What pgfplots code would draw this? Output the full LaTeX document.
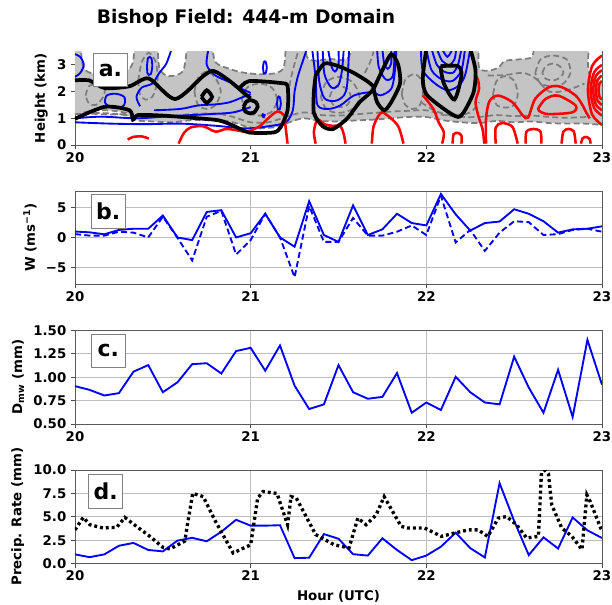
\documentclass[border=0pt]{standalone}
\usepackage{fontspec}
\setmainfont{DejaVu Sans}
\usepackage{pgfplots}
\pgfplotsset{compat=1.18}
\usepackage{pgfplotstable}

\definecolor{gfill}{RGB}{196,196,196}
\definecolor{gdash}{RGB}{125,125,125}
\definecolor{gridc}{RGB}{190,190,190}

\pgfplotstableread{
x      wsol  wdash  dmw    psol
20.000 1.03  0.60   0.905  0.98
20.083 0.90  0.35   0.865  0.68
20.167 0.57  0.35   0.805  0.98
20.250 1.30  1.00   0.830  1.90
20.333 1.50  0.85   1.060  2.20
20.417 1.50  0.05   1.130  1.45
20.500 3.70  3.50   0.840  1.30
20.583 0.05  0.00   0.945  2.45
20.667 -0.40 -3.80  1.140  2.75
20.750 4.30  3.50   1.150  2.38
20.833 4.60  4.50   1.040  3.40
20.917 0.05  -2.80  1.280  4.68
21.000 0.75  -0.40  1.315  4.05
21.083 4.00  4.00   1.070  4.05
21.167 0.05  0.05   1.340  4.10
21.250 -1.50 -6.60  0.910  0.58
21.333 6.10  5.30   0.660  0.62
21.417 0.45  -0.70  0.710  3.15
21.500 -0.70 -0.70  1.130  2.65
21.583 5.40  3.30   0.840  1.00
21.667 0.45  0.35   0.770  0.85
21.750 1.40  0.35   0.790  2.70
21.833 4.00  1.00   1.045  1.45
21.917 2.45  2.05   0.620  0.36
22.000 2.05  0.45   0.730  0.85
22.083 7.30  7.00   0.650  1.80
22.167 3.90  -0.80  1.005  3.30
22.250 1.20  1.30   0.840  1.65
22.333 2.45  -2.20  0.730  0.65
22.417 2.70  0.85   0.710  8.60
22.500 4.75  2.75   1.220  4.55
22.583 4.00  2.60   0.890  0.90
22.667 2.75  0.45   0.620  2.80
22.750 0.85  0.60   1.080  1.60
22.833 1.40  1.30   0.575  4.93
22.917 1.50  1.50   1.400  3.55
23.000 1.90  1.00   0.920  2.73
}\maindata

\pgfplotstableread{
x      p
20.000 3.60
20.047 4.93
20.085 4.15
20.160 3.80
20.237 3.87
20.284 4.93
20.350 3.97
20.420 3.00
20.500 1.74
20.540 1.55
20.625 2.40
20.640 4.15
20.670 7.50
20.730 7.16
20.800 4.50
20.900 1.13
21.000 2.00
21.040 7.00
21.070 7.70
21.150 7.50
21.210 4.15
21.230 7.16
21.260 7.00
21.370 3.10
21.476 2.00
21.560 1.67
21.610 4.86
21.657 4.15
21.714 5.20
21.760 7.16
21.857 3.97
21.895 3.80
21.990 3.80
22.086 2.90
22.160 3.26
22.240 3.60
22.295 3.60
22.350 2.90
22.410 4.86
22.457 5.03
22.514 4.15
22.571 2.73
22.638 2.90
22.657 10.30
22.695 9.60
22.714 6.27
22.771 3.80
22.829 2.90
22.886 1.49
22.914 7.34
22.933 6.63
23.000 3.44
}\dotdata

\tikzset{
  lbox/.style={draw=gray, fill=white, line width=0.7pt, anchor=north west,
    minimum width=25.5pt, minimum height=25pt, inner sep=0pt,
    font=\fontsize{16.5}{18}\selectfont\bfseries},
}
\pgfplotsset{
  myax/.style={
    scale only axis, width=395.25pt, height=70.1pt,
    xmin=20, xmax=23, xtick={20,21,22,23}, xticklabels={20,21,22,23},
    tick align=outside, tick pos=left, major tick length=3pt,
    axis line style={black!65, line width=0.7pt},
    tick style={black!70, line width=0.6pt},
    ticklabel style={font=\fontsize{10}{12}\selectfont\bfseries},
    label style={font=\fontsize{10}{12}\selectfont\bfseries},
    xticklabel style={yshift=1pt},
  },
  mygrid/.style={grid=major, grid style={gridc, line width=0.6pt}},
  bl/.style={blue, line width=1.4pt, smooth, tension=0.5},
  rd/.style={red, line width=1.9pt, smooth, tension=0.5},
  bk/.style={black, line width=2.8pt, smooth, tension=0.45},
  gd/.style={gdash, line width=1.3pt, dash pattern=on 4.5pt off 2.5pt, smooth, tension=0.5},
  wp/.style={fill=white, draw=gdash, line width=1.3pt, dash pattern=on 4.5pt off 2.5pt, smooth, tension=0.5},
}

\begin{document}
\begin{tikzpicture}
\useasboundingbox (0,0) rectangle (459pt,453.75pt);
\node[font=\fontsize{14}{16}\selectfont\bfseries] at (184.5pt,440.25pt) {Bishop Field: 444-m Domain};

% ---------------- panel a ----------------
\begin{axis}[myax, at={(56.25pt,345pt)}, anchor=south west,
  ymin=0, ymax=3.5, ytick={0,1,2,3}, yticklabels={0,1,2,3},
  ylabel={Height (km)}]
% gray shading
\addplot[fill=gfill, draw=none] coordinates {
 (20,1.15) (20.1,1.2) (20.2,1.18) (20.3,1.1) (20.35,0.92) (20.45,0.88) (20.55,0.85)
 (20.65,0.92) (20.8,0.95) (20.9,0.85) (20.97,0.7) (21.05,0.62) (21.15,0.68) (21.22,0.85)
 (21.3,1.0) (21.4,0.9) (21.5,0.88) (21.6,0.92) (21.7,0.95) (21.8,1.0) (21.9,1.05) (22.0,1.05)
 (22.1,0.92) (22.2,0.85) (22.3,0.82) (22.4,0.9) (22.5,0.85) (22.6,0.88) (22.7,0.82)
 (22.8,0.8) (22.9,0.8) (23,0.75) (23.1,0.75) (23.1,3.8) (19.9,3.8) (19.9,1.15)};
% white gaps
\addplot[wp] coordinates {(20.035,3.8) (20.04,3.1) (20.07,2.75) (20.15,2.62) (20.24,2.65) (20.3,2.8) (20.33,3.1) (20.34,3.8)};
\addplot[wp] coordinates {(20.47,3.8) (20.48,2.9) (20.52,2.6) (20.58,2.62) (20.62,2.85) (20.64,3.8)};
\addplot[wp] coordinates {(20.78,3.8) (20.8,3.1) (20.88,2.85) (20.95,2.72) (21.05,2.65) (21.15,2.7) (21.19,2.95) (21.2,3.8)};
\addplot[wp] coordinates {(21.31,3.8) (21.32,3.3) (21.36,3.15) (21.45,3.22) (21.52,3.18) (21.56,3.3) (21.58,3.8)};
\addplot[wp] coordinates {(22.3,3.8) (22.3,2.9) (22.35,2.78) (22.41,2.9) (22.45,3.15) (22.55,3.22) (22.6,3.3) (22.62,3.8)};
\addplot[wp] coordinates {(22.93,3.8) (22.92,3.0) (22.95,2.45) (23.1,2.35) (23.1,3.8)};
\addplot[wp] coordinates {(20.05,1.22) (20.12,1.3) (20.22,1.28) (20.3,1.18) (20.22,1.14) (20.1,1.17) (20.05,1.22)};
% dashed contours
\addplot[gd] coordinates {
 (20,1.15) (20.1,1.2) (20.2,1.18) (20.3,1.1) (20.35,0.92) (20.45,0.88) (20.55,0.85)
 (20.65,0.92) (20.8,0.95) (20.9,0.85) (20.97,0.7) (21.05,0.62) (21.15,0.68) (21.22,0.85)
 (21.3,1.0) (21.4,0.9) (21.5,0.88) (21.6,0.92) (21.7,0.95) (21.8,1.0) (21.9,1.05) (22.0,1.05)
 (22.1,0.92) (22.2,0.85) (22.3,0.82) (22.4,0.9) (22.5,0.85) (22.6,0.88) (22.7,0.82)
 (22.8,0.8) (22.9,0.8) (23,0.75)};
\addplot[gd] coordinates {
 (20.35,1.15) (20.45,1.1) (20.55,1.08) (20.65,1.15) (20.8,1.18) (20.9,1.05) (21.0,0.85)
 (21.1,0.85) (21.2,1.05) (21.3,1.22) (21.4,1.12) (21.5,1.1) (21.6,1.15) (21.7,1.2) (21.8,1.25)
 (21.9,1.28) (22.0,1.3) (22.1,1.12) (22.2,1.05) (22.3,1.05) (22.4,1.12) (22.5,1.08)
 (22.6,1.1) (22.7,1.05) (22.8,1.02) (22.92,1.05)};
\addplot[gd] coordinates {(20.68,2.0) (20.7,2.5) (20.75,2.75) (20.8,2.5) (20.83,2.0) (20.8,1.5) (20.75,1.35) (20.7,1.5) (20.68,2.0)};
\addplot[gd] coordinates {(20.36,2.4) (20.38,3.1) (20.42,3.45) (20.46,3.1) (20.47,2.4) (20.44,1.8) (20.4,1.7) (20.37,1.9) (20.36,2.4)};
\addplot[gd] coordinates {(20.95,1.7) (20.98,2.15) (21.05,2.3) (21.12,2.15) (21.15,1.7) (21.12,1.25) (21.05,1.1) (20.98,1.25) (20.95,1.7)};
\addplot[gd] coordinates {(21.4,1.8) (21.43,2.35) (21.5,2.55) (21.58,2.35) (21.62,1.8) (21.58,1.35) (21.5,1.2) (21.43,1.35) (21.4,1.8)};
\addplot[gd] coordinates {(21.45,1.8) (21.47,2.1) (21.51,2.2) (21.55,2.1) (21.57,1.8) (21.55,1.5) (21.51,1.42) (21.47,1.5) (21.45,1.8)};
\addplot[gd] coordinates {(21.86,1.9) (21.88,2.45) (21.93,2.65) (21.97,2.45) (21.98,1.9) (21.96,1.45) (21.92,1.35) (21.88,1.5) (21.86,1.9)};
\addplot[gd] coordinates {(21.97,1.6) (22.05,1.28) (22.15,1.1) (22.25,1.22) (22.3,1.6)};
\addplot[gd] coordinates {(22.38,1.9) (22.4,2.4) (22.45,2.58) (22.5,2.4) (22.52,1.9) (22.5,1.5) (22.45,1.4) (22.4,1.5) (22.38,1.9)};
\addplot[gd] coordinates {(22.62,2.7) (22.65,3.2) (22.72,3.35) (22.8,3.2) (22.82,2.7) (22.78,2.3) (22.72,2.2) (22.65,2.3) (22.62,2.7)};
\addplot[gd] coordinates {(22.66,2.7) (22.68,2.95) (22.72,3.05) (22.76,2.95) (22.78,2.7) (22.75,2.48) (22.72,2.42) (22.68,2.48) (22.66,2.7)};
\addplot[gd] coordinates {(20.06,1.85) (20.08,2.2) (20.13,2.3) (20.17,2.15) (20.16,1.8) (20.12,1.5) (20.08,1.55) (20.06,1.85)};
\addplot[gd] coordinates {(21.22,2.2) (21.24,2.8) (21.27,3.5)};
\addplot[gd] coordinates {(21.65,2.7) (21.68,3.1) (21.7,3.5)};
\addplot[gd] coordinates {(22.35,2.6) (22.45,2.62) (22.55,2.7) (22.62,2.5) (22.7,2.0) (22.8,2.05) (22.9,2.3)};
% blue contours
\addplot[bl] coordinates {(20,0.85) (20.2,0.8) (20.4,0.78) (20.6,0.8) (20.8,0.72) (20.97,0.62) (21.1,0.7) (21.2,0.85) (21.24,1.3) (21.25,2.0) (21.27,2.6) (21.3,3.2) (21.32,3.6)};
\addplot[bl] coordinates {(20,1.0) (20.15,1.06) (20.35,1.0) (20.55,1.08) (20.75,1.15) (20.9,1.22) (21.0,1.42)};
\addplot[bl] coordinates {(20.45,1.3) (20.6,1.35) (20.7,1.48) (20.8,1.52) (20.88,1.6) (20.95,1.78) (21.0,1.9)};
\addplot[bl] coordinates {(20.17,1.6) (20.18,1.85) (20.23,1.92) (20.28,1.8) (20.28,1.5) (20.24,1.38) (20.19,1.45) (20.17,1.6)};
\addplot[bl] coordinates {(20.0,2.55) (20.03,2.7) (20.05,3.0) (20.03,3.3) (20.0,3.4)};
\addplot[bl] coordinates {(20.41,2.95) (20.415,3.25) (20.425,3.3) (20.435,3.25) (20.44,2.95) (20.432,2.66) (20.42,2.62) (20.412,2.7) (20.41,2.95)};
\addplot[bl] coordinates {(20.55,3.6) (20.52,3.05) (20.48,2.7) (20.44,2.3) (20.38,2.15) (20.35,1.8) (20.37,1.45)};
\addplot[bl] coordinates {(20.76,3.6) (20.75,3.0) (20.8,2.6) (20.9,2.3) (20.95,2.1) (21.0,1.95)};
\addplot[bl] coordinates {(21.07,2.9) (21.075,3.1) (21.085,3.12) (21.092,2.9) (21.085,2.68) (21.075,2.68) (21.07,2.9)};
\addplot[bl] coordinates {(21.15,1.55) (21.155,1.78) (21.165,1.8) (21.172,1.55) (21.165,1.33) (21.155,1.33) (21.15,1.55)};
\addplot[bl] coordinates {(21.065,1.08) (21.07,1.15) (21.08,1.12) (21.075,1.04) (21.065,1.08)};
\addplot[bl] coordinates {(21.35,3.6) (21.37,2.5) (21.38,1.5) (21.44,1.35) (21.51,1.48) (21.59,1.86) (21.69,1.98) (21.74,1.86) (21.8,2.1) (21.82,2.7) (21.83,3.6)};
\addplot[bl] coordinates {(21.38,3.6) (21.39,2.4) (21.42,1.75) (21.48,1.65) (21.53,1.85) (21.55,2.3) (21.56,3.6)};
\addplot[bl] coordinates {(21.41,3.6) (21.42,2.65) (21.46,2.15) (21.5,2.25) (21.52,2.8) (21.53,3.6)};
\addplot[bl] coordinates {(21.44,3.6) (21.46,2.95) (21.48,2.75) (21.5,3.0) (21.5,3.6)};
\addplot[bl] coordinates {(21.72,3.6) (21.73,2.9) (21.77,2.45) (21.81,2.6) (21.82,3.6)};
\addplot[bl] coordinates {(21.75,3.6) (21.76,3.05) (21.78,2.85) (21.8,3.05) (21.8,3.6)};
\addplot[bl] coordinates {(21.97,3.6) (21.98,2.8) (22.05,2.3) (22.12,2.05) (22.18,2.2) (22.22,2.6) (22.25,3.6)};
\addplot[bl] coordinates {(22.0,3.6) (22.03,2.8) (22.09,2.45) (22.15,2.4) (22.2,2.8) (22.22,3.6)};
\addplot[bl] coordinates {(22.03,3.6) (22.06,3.0) (22.1,2.75) (22.15,2.7) (22.18,3.0) (22.2,3.6)};
\addplot[bl] coordinates {(22.06,3.6) (22.09,3.15) (22.13,3.0) (22.16,3.2) (22.17,3.6)};
\addplot[bl] coordinates {(22.09,3.6) (22.12,3.3) (22.15,3.6)};
% red contours
\addplot[rd] coordinates {(20.3,0.2) (20.33,0.3) (20.38,0.32) (20.42,0.24)};
\addplot[rd] coordinates {(20.59,0.05) (20.62,0.45) (20.66,0.66) (20.73,0.7) (20.8,0.5) (20.86,0.6) (20.92,0.55) (20.98,0.5) (21.05,0.7) (21.1,1.0) (21.15,1.25) (21.19,1.1) (21.2,0.6) (21.21,0.05)};
\addplot[rd] coordinates {(21.37,0.05) (21.36,0.5) (21.38,0.95) (21.42,0.78) (21.46,0.72) (21.51,0.7) (21.53,0.4) (21.54,0.05)};
\addplot[rd] coordinates {(21.69,0.05) (21.7,0.7) (21.74,1.2) (21.78,1.1) (21.84,0.7) (21.87,0.05)};
\addplot[rd] coordinates {(21.98,1.86) (22.04,1.35) (22.07,0.85) (22.1,0.47) (22.09,0.05)};
\addplot[rd] coordinates {(22.15,0.05) (22.155,0.4) (22.18,0.45) (22.2,0.35) (22.2,0.05)};
\addplot[rd] coordinates {(22.27,2.1) (22.29,2.5) (22.3,2.1) (22.28,1.6) (22.3,1.0) (22.32,0.6) (22.33,0.05)};
\addplot[rd] coordinates {(22.34,0.05) (22.34,1.0) (22.36,1.65) (22.41,1.85) (22.49,1.6) (22.55,1.1) (22.58,1.03) (22.62,1.73) (22.7,2.17) (22.77,2.17) (22.85,1.85) (22.89,1.48) (22.91,1.22) (22.93,1.0)};
\addplot[rd] coordinates {(22.64,1.4) (22.68,1.73) (22.75,1.85) (22.85,1.48) (22.83,1.22) (22.69,1.16) (22.64,1.29) (22.64,1.4)};
\addplot[rd] coordinates {(22.395,0.05) (22.395,0.65) (22.43,0.82) (22.49,0.68) (22.52,0.05)};
\addplot[rd] coordinates {(22.565,0.05) (22.57,0.5) (22.61,0.6) (22.65,0.5) (22.655,0.05)};
\addplot[rd] coordinates {(22.77,0.05) (22.78,0.5) (22.81,0.6) (22.84,0.5) (22.85,0.05)};
\addplot[rd] coordinates {(22.88,0.05) (22.89,0.25) (22.91,0.3) (22.93,0.22) (22.935,0.05)};
\addplot[rd] coordinates {(23,1.7) (22.986,1.8) (22.98,2.05) (22.986,2.3) (23,2.4)};
\addplot[rd] coordinates {(23,1.5) (22.975,1.66) (22.965,2.05) (22.975,2.44) (23,2.6)};
\addplot[rd] coordinates {(23,1.3) (22.965,1.52) (22.95,2.05) (22.965,2.58) (23,2.8)};
\addplot[rd] coordinates {(23,1.1) (22.955,1.39) (22.935,2.05) (22.955,2.72) (23,3.0)};
\addplot[rd] coordinates {(23,0.75) (22.944,1.14) (22.92,2.05) (22.944,2.96) (23,3.35)};
% black contours
\addplot[bk] coordinates {(20,2.42) (20.08,2.42) (20.17,2.13) (20.31,2.2) (20.42,2.49) (20.57,1.72) (20.73,2.58) (20.79,2.77) (20.88,2.4) (20.97,1.9) (21.0,1.75)};
\addplot[bk] coordinates {(20,0.98) (20.17,1.43) (20.31,1.3) (20.33,0.95) (20.36,1.12) (20.5,1.1) (20.7,1.0) (20.82,0.92) (20.9,0.73) (20.99,0.47) (21.13,0.47) (21.17,0.66) (21.21,1.3) (21.21,2.2) (21.17,2.32) (20.99,2.39) (20.93,2.07)};
\addplot[bk] coordinates {(20.72,1.8) (20.75,2.05) (20.78,1.8) (20.75,1.58) (20.72,1.8)};
\addplot[bk] coordinates {(20.96,1.43) (20.975,1.62) (21.0,1.68) (21.03,1.6) (21.04,1.43) (21.02,1.22) (21.0,1.18) (20.97,1.25) (20.96,1.43)};
\addplot[bk] coordinates {(21.37,2.6) (21.42,3.05) (21.5,2.95) (21.6,2.65) (21.7,2.15) (21.62,1.6) (21.55,1.0) (21.47,0.6) (21.41,0.7) (21.36,1.2) (21.36,2.0) (21.37,2.6)};
\addplot[bk] coordinates {(21.7,2.1) (21.75,2.8) (21.8,3.4) (21.84,3.0) (21.85,2.3) (21.8,1.6) (21.76,1.3) (21.72,1.6) (21.7,2.1)};
\addplot[bk] coordinates {(22.0,3.6) (21.98,2.5) (22.0,1.9) (22.1,1.35) (22.18,1.05) (22.22,1.3) (22.27,2.0) (22.28,2.8) (22.25,3.6)};
\addplot[bk] coordinates {(22.08,2.95) (22.18,2.95) (22.2,2.6) (22.16,1.7) (22.1,2.3) (22.08,2.95)};
\node[lbox] at (axis description cs:0.034,0.983) {a.};
\end{axis}

% ---------------- panel b ----------------
\begin{axis}[myax, mygrid, at={(56.25pt,240.4pt)}, anchor=south west,
  ymin=-7.8, ymax=7.8, ytick={-5,0,5}, yticklabels={−5,0,5},
  ylabel={W (ms\textsuperscript{−1})}]
\addplot[blue, line width=1.4pt] table[x=x, y=wsol] {\maindata};
\addplot[blue, line width=1.4pt, dash pattern=on 4.5pt off 2.5pt] table[x=x, y=wdash] {\maindata};
\node[lbox] at (axis description cs:0.03,0.965) {b.};
\end{axis}

% ---------------- panel c ----------------
\begin{axis}[myax, mygrid, at={(56.25pt,135.75pt)}, anchor=south west,
  ymin=0.5, ymax=1.5, ytick={0.5,0.75,1,1.25,1.5}, yticklabels={0.50,0.75,1.00,1.25,1.50},
  ylabel={D\textsubscript{mw} (mm)}]
\addplot[blue, line width=1.4pt] table[x=x, y=dmw] {\maindata};
\node[lbox] at (axis description cs:0.03,0.965) {c.};
\end{axis}

% ---------------- panel d ----------------
\begin{axis}[myax, mygrid, at={(56.25pt,31.1pt)}, anchor=south west,
  ymin=0, ymax=10, ytick={0,2.5,5,7.5,10}, yticklabels={0.0,2.5,5.0,7.5,10.0},
  ylabel={Precip. Rate (mm)}, xlabel={Hour (UTC)}]
\addplot[blue, line width=1.4pt] table[x=x, y=psol] {\maindata};
\addplot[black, line width=2.5pt, dash pattern=on 2.2pt off 2.2pt] table[x=x, y=p] {\dotdata};
\node[lbox] at (axis description cs:0.025,0.955) {d.};
\end{axis}
\end{tikzpicture}
\end{document}
